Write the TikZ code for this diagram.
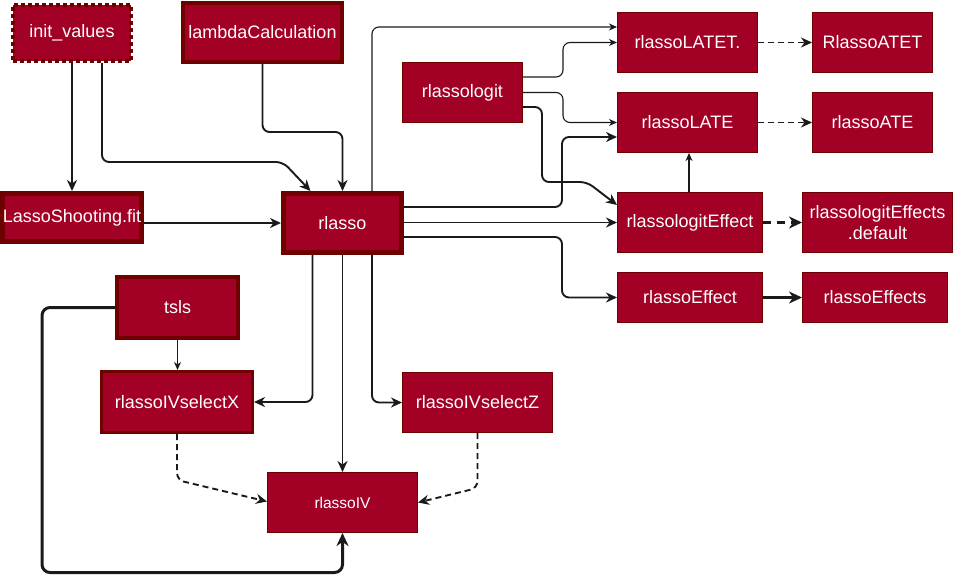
\documentclass[tikz,border=0pt]{standalone}
\usepackage{fontspec}
\setmainfont{Liberation Sans}
\usetikzlibrary{arrows.meta}
\definecolor{boxfill}{HTML}{A20025}
\definecolor{boxline}{HTML}{6F0000}
\definecolor{edgecol}{HTML}{1A1A1A}
\begin{document}
\begin{tikzpicture}[x=1pt,y=-1pt,
  box/.style={rectangle, fill=boxfill, draw=boxline, text=white,
    font=\fontsize{18}{21.5}\selectfont, align=center, inner sep=0pt},
  b1/.style={box, line width=1pt},
  b3/.style={box, line width=3pt},
  b4/.style={box, line width=4pt},
  b5/.style={box, line width=5pt},
  e/.style={draw=edgecol, line width=1.9pt, rounded corners=7pt,
    -{Stealth[length=11pt,width=10pt,inset=3.5pt]}},
  ethin/.style={draw=edgecol, line width=1.1pt, rounded corners=7pt,
    -{Stealth[length=8pt,width=7pt,inset=2.5pt]}},
  ethick/.style={draw=edgecol, line width=3pt, rounded corners=8pt,
    -{Stealth[length=13pt,width=12pt,inset=4pt]}},
  edash/.style={e, dash pattern=on 6pt off 4pt},
  ethickdash/.style={ethick, dash pattern=on 8pt off 6pt}
]
\useasboundingbox (0,0) rectangle (954,582);

% nodes
\node[b4, dash pattern=on 4pt off 3pt, minimum width=118pt, minimum height=56pt] (init) at (72,33) {init\_values};
\node[b4, minimum width=159pt, minimum height=59pt] (lambda) at (262.5,32.5) {lambdaCalculation};
\node[b5, minimum width=139pt, minimum height=48pt] (lasso) at (72,217.5) {LassoShooting.fit};
\node[b5, minimum width=118pt, minimum height=59pt] (rlasso) at (342.5,223) {rlasso};
\node[b1, minimum width=120pt, minimum height=60pt] (rlassologit) at (462.5,92.5) {rlassologit};
\node[b1, minimum width=140pt, minimum height=60pt] (LATET) at (687.5,42.5) {rlassoLATET.};
\node[b1, minimum width=120pt, minimum height=60pt] (ATET) at (872.5,42.5) {RlassoATET};
\node[b1, minimum width=140pt, minimum height=60pt] (LATE) at (687.5,122.5) {rlassoLATE};
\node[b1, minimum width=120pt, minimum height=60pt] (ATE) at (872.5,122.5) {rlassoATE};
\node[b1, minimum width=145pt, minimum height=60pt] (logitEffect) at (690,222.5) {rlassologitEffect};
\node[b1, minimum width=150pt, minimum height=60pt] (default) at (877.5,222.5) {rlassologitEffects\\.default};
\node[b1, minimum width=145pt, minimum height=50pt] (Effect) at (690,297.5) {rlassoEffect};
\node[b1, minimum width=145pt, minimum height=50pt] (Effects) at (875,297.5) {rlassoEffects};
\node[b4, minimum width=121pt, minimum height=61pt] (tsls) at (177.5,307.5) {tsls};
\node[b3, minimum width=151pt, minimum height=61pt] (selX) at (177,402) {rlassoIVselectX};
\node[b1, minimum width=150pt, minimum height=60pt] (selZ) at (477.5,402.5) {rlassoIVselectZ};
\node[b1, minimum width=150pt, minimum height=60pt, font=\fontsize{15.5}{18}\selectfont] (IV) at (342.5,502.5) {rlassoIV};

% connectors
\draw[e] (init.south) -- (lasso.north);
\draw[e] ([xshift=30pt]init.south) |- (283,162) -- ([xshift=-32pt]rlasso.north);
\draw[e] (lambda.south) |- (300,132) -| (rlasso.north);
\draw[e] (lasso.east |- rlasso.west) -- (rlasso.west);
\draw[ethin] ([xshift=29.5pt]rlasso.north) |- ([yshift=15.5pt]LATET.west);
\draw[ethin] ([yshift=15.5pt]rlassologit.east) -- ++(40,0) |- (LATET.west);
\draw[ethin] (rlassologit.east) -- ++(40,0) |- (LATE.west);
\draw[e] ([yshift=-14.5pt]rlassologit.east) -- ++(19,0) |- (587,182) -- ([yshift=17.5pt]logitEffect.west);
\draw[e] ([yshift=16pt]rlasso.east) -- ++(158,0) |- ([yshift=-14.5pt]LATE.west);
\draw[e] (rlasso.east |- logitEffect.west) -- (logitEffect.west);
\draw[e] ([yshift=-14pt]rlasso.east) -- ++(158,0) |- (Effect.west);
\draw[ethin] ([xshift=-1pt]logitEffect.north) -- ([xshift=-1pt]logitEffect.north |- LATE.south);
\draw[edash] (LATET.east) -- (ATET.west);
\draw[edash] (LATE.east) -- (ATE.west);
\draw[ethickdash] (logitEffect.east) -- (default.west);
\draw[ethick] (Effect.east) -- (Effects.west);
\draw[ethin] (tsls.south) -- (tsls.south |- selX.north);
\draw[ethick] (tsls.west) -- ++(-73,0) -- ++(0,265) -| (IV.south);
\draw[e] ([xshift=-30pt]rlasso.south) |- (selX.east);
\draw[e] (rlasso.south) -- (IV.north);
\draw[e] ([xshift=29.5pt]rlasso.south) |- (selZ.west);
\draw[edash] (selX.south) -- ++(0,46) -- ([yshift=1pt]IV.west);
\draw[edash] (selZ.south) -- ++(0,55) -- (IV.east);
\end{tikzpicture}
\end{document}
